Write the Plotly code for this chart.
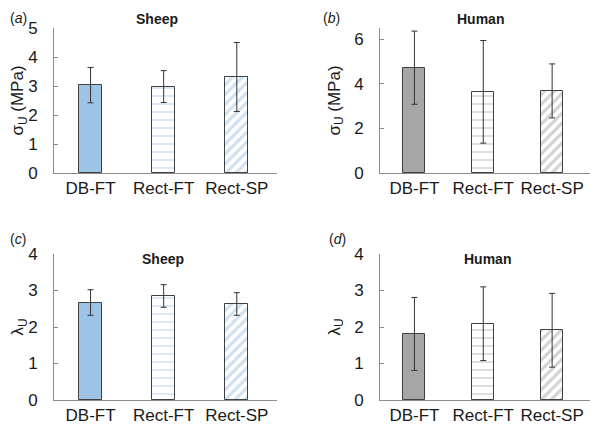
import plotly.graph_objects as go

categories = ["DB-FT", "Rect-FT", "Rect-SP"]

# ultimate stress (MPa), mean and SD
sheep_stress = [3.03, 2.98, 3.31]
sheep_stress_sd = [0.61, 0.55, 1.19]
human_stress = [4.72, 3.64, 3.68]
human_stress_sd = [1.64, 2.30, 1.21]

# ultimate stretch
sheep_stretch = [2.67, 2.85, 2.63]
sheep_stretch_sd = [0.35, 0.31, 0.31]
human_stretch = [1.81, 2.09, 1.91]
human_stretch_sd = [1.00, 1.01, 1.01]

FONT = "Arial, Liberation Sans, sans-serif"
BLUE = "#9DC3E6"
GRAY = "#A6A6A6"
EDGE = "#404040"

fig = go.Figure()


def add_bars(values, sd, color, xa, ya):
    # one trace per bar so each can have its own fill pattern
    shapes = ["", "-", "/"]
    sizes = [0, 8, 7]
    solid = [0, 0.18, 0.45]
    for i, cat in enumerate(categories):
        if i == 0:
            marker = dict(color=color, line=dict(color=EDGE, width=1))
        else:
            marker = dict(
                color="white",
                line=dict(color=EDGE, width=1),
                pattern=dict(
                    shape=shapes[i],
                    fgcolor=color,
                    bgcolor="white",
                    size=sizes[i],
                    solidity=solid[i],
                    fillmode="overlay",
                ),
            )
        fig.add_trace(
            go.Bar(
                x=[cat],
                y=[values[i]],
                width=0.32,
                marker=marker,
                error_y=dict(type="data", array=[sd[i]], color="#333333",
                             thickness=1, width=3),
                xaxis=xa,
                yaxis=ya,
                showlegend=False,
            )
        )


add_bars(sheep_stress, sheep_stress_sd, BLUE, "x", "y")
add_bars(human_stress, human_stress_sd, GRAY, "x2", "y2")
add_bars(sheep_stretch, sheep_stretch_sd, BLUE, "x3", "y3")
add_bars(human_stretch, human_stretch_sd, GRAY, "x4", "y4")

# the page body adds an 8px margin, so the figure is laid out 8px up/left
W, H = 592, 420
left_dom = [46 / W, 269 / W]
right_dom = [372 / W, 582 / W]
top_dom = [(H - 165) / H, (H - 20) / H]
bot_dom = [(H - 392) / H, (H - 246) / H]

xcommon = dict(
    showline=True, linecolor="#8C8C8C", linewidth=1, showgrid=False,
    ticks="", tickfont=dict(size=17, color="#1a1a1a"), range=[-0.5, 2.55],
    zeroline=False, automargin=False,
)
ycommon = dict(
    showline=True, linecolor="#8C8C8C", linewidth=1, showgrid=False,
    ticks="inside", ticklen=4, tickcolor="#8C8C8C", ticklabelstandoff=12,
    tickfont=dict(size=17, color="#1a1a1a"), zeroline=False,
    title_font=dict(size=17, color="#1a1a1a"), title_standoff=9,
    automargin=False,
)

fig.update_layout(
    width=W,
    height=H,
    margin=dict(l=0, r=0, t=0, b=0),
    plot_bgcolor="white",
    paper_bgcolor="white",
    font=dict(family=FONT, color="#1a1a1a"),
    bargap=0,
    xaxis=dict(domain=left_dom, anchor="y", **xcommon),
    xaxis2=dict(domain=right_dom, anchor="y2", **xcommon),
    xaxis3=dict(domain=left_dom, anchor="y3", **xcommon),
    xaxis4=dict(domain=right_dom, anchor="y4", **xcommon),
    yaxis=dict(domain=top_dom, anchor="x", range=[0, 5], dtick=1,
               title_text="σ<sub>U</sub> (MPa)", **ycommon),
    yaxis2=dict(domain=top_dom, anchor="x2", range=[0, 6.5], dtick=2,
                title_text="σ<sub>U</sub> (MPa)", **ycommon),
    yaxis3=dict(domain=bot_dom, anchor="x3", range=[0, 4], dtick=1,
                title_text="λ<sub>U</sub>", **ycommon),
    yaxis4=dict(domain=bot_dom, anchor="x4", range=[0, 4], dtick=1,
                title_text="λ<sub>U</sub>", **ycommon),
)

# panel letters and group titles
labels = [("(<i>a</i>)", 0, 0), ("(<i>b</i>)", 313, 0),
          ("(<i>c</i>)", 0, 221), ("(<i>d</i>)", 319, 221)]
for txt, px, py in labels:
    fig.add_annotation(text=txt, x=px / W, y=1 - py / H, xref="paper",
                       yref="paper", xanchor="left", yanchor="top",
                       showarrow=False, font=dict(size=14))

titles = [("Sheep", 149, 11), ("Human", 472, 11),
          ("Sheep", 155, 251), ("Human", 479, 251)]
for txt, px, py in titles:
    fig.add_annotation(text="<b>" + txt + "</b>", x=px / W, y=1 - py / H,
                       xref="paper", yref="paper", xanchor="center",
                       yanchor="middle", showarrow=False, font=dict(size=14))

fig.write_html("out.html")
